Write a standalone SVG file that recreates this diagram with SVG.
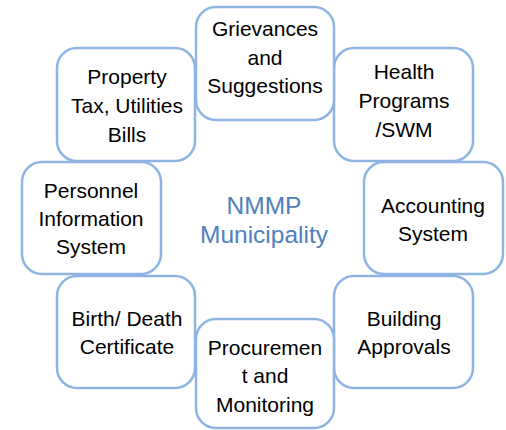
<svg xmlns="http://www.w3.org/2000/svg" width="506" height="430" viewBox="0 0 506 430">
<style>
.box{fill:#ffffff;stroke:#8eb4e3;stroke-width:2.5}
.t{font-family:"Liberation Sans",Arial,sans-serif;font-size:21px;fill:#000000;text-anchor:middle}
.c{font-family:"Liberation Sans",Arial,sans-serif;font-size:24.5px;fill:#4f81bd;text-anchor:middle}
</style>
<rect width="506" height="430" fill="#ffffff"/>
<g id="connectors"></g>
<g id="center">
<text class="c" x="264" y="214">NMMP</text>
<text class="c" x="264" y="243">Municipality</text>
</g>
<g id="property">
<rect class="box" x="57" y="48" width="138" height="113" rx="20"/>
<text class="t" x="127" y="84">Property</text>
<text class="t" x="127" y="113">Tax, Utilities</text>
<text class="t" x="127" y="142">Bills</text>
</g>
<g id="health">
<rect class="box" x="334" y="48" width="139" height="113" rx="20"/>
<text class="t" x="404" y="79">Health</text>
<text class="t" x="404" y="108">Programs</text>
<text class="t" x="404" y="137">/SWM</text>
</g>
<g id="grievances">
<rect class="box" x="196" y="7" width="138" height="113" rx="20"/>
<text class="t" x="265" y="36">Grievances</text>
<text class="t" x="265" y="65">and</text>
<text class="t" x="265" y="93">Suggestions</text>
</g>
<g id="personnel">
<rect class="box" x="22" y="162" width="139" height="112" rx="20"/>
<text class="t" x="91" y="198">Personnel</text>
<text class="t" x="91" y="226">Information</text>
<text class="t" x="91" y="254">System</text>
</g>
<g id="accounting">
<rect class="box" x="364" y="162" width="139" height="112" rx="20"/>
<text class="t" x="433" y="213">Accounting</text>
<text class="t" x="433" y="241">System</text>
</g>
<g id="birth">
<rect class="box" x="57" y="276" width="138" height="112" rx="20"/>
<text class="t" x="127" y="326">Birth/ Death</text>
<text class="t" x="127" y="354">Certificate</text>
</g>
<g id="building">
<rect class="box" x="334" y="276" width="139" height="112" rx="20"/>
<text class="t" x="404" y="326">Building</text>
<text class="t" x="404" y="354">Approvals</text>
</g>
<g id="procurement">
<rect class="box" x="196" y="319" width="138" height="109" rx="20"/>
<text class="t" x="265" y="355">Procuremen</text>
<text class="t" x="265" y="383">t and</text>
<text class="t" x="265" y="412">Monitoring</text>
</g>
</svg>
